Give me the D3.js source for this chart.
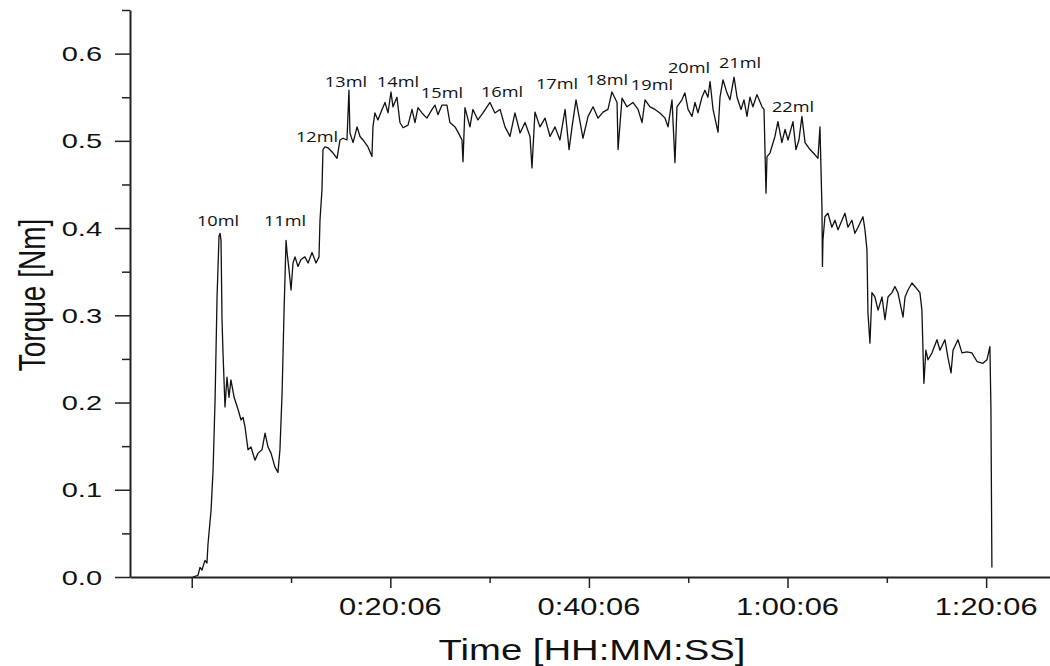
<!DOCTYPE html>
<html>
<head>
<meta charset="utf-8">
<script src="https://cdn.jsdelivr.net/npm/d3@7"></script>
<style>
  body { margin: 0; background: #fff; }
  svg { display: block; }
  .axis path, .axis line { stroke: #222; }
</style>
</head>
<body>
<svg id="chart" width="1050" height="666"></svg>
<script>
// time in seconds, torque in Nm
var times = [14,44,56,68,86,98,104,123,135,147,159,171,177,183,189,195,207,219,231,243,262,286,304,316,328,346,364,388,407,431,449,467,485,509,527,539,552,564,576,582,594,606,618,630,648,666,690,709,733,757,775,781,793,799,811,829,860,884,902,920,944,956,962,981,1005,1023,1041,1071,1095,1101,1113,1131,1156,1174,1192,1210,1222,1246,1264,1283,1313,1337,1355,1373,1397,1427,1458,1476,1494,1518,1548,1566,1597,1615,1639,1645,1657,1687,1705,1735,1766,1808,1838,1869,1899,1929,1959,1990,2020,2050,2062,2080,2110,2141,2171,2201,2231,2262,2286,2304,2328,2352,2370,2401,2431,2461,2491,2521,2545,2576,2582,2606,2636,2672,2703,2727,2745,2775,2805,2835,2866,2884,2908,2926,2938,2968,2986,3005,3029,3047,3065,3089,3107,3125,3138,3156,3186,3198,3216,3240,3258,3283,3301,3325,3343,3361,3379,3397,3421,3452,3464,3476,3482,3500,3530,3548,3572,3591,3609,3639,3657,3675,3693,3712,3742,3772,3790,3802,3814,3817,3820,3832,3850,3874,3893,3911,3935,3953,3971,3995,4013,4032,4062,4074,4086,4092,4104,4116,4134,4153,4177,4195,4213,4237,4255,4273,4304,4316,4334,4358,4376,4406,4418,4424,4430,4442,4455,4479,4509,4527,4557,4575,4594,4606,4636,4660,4690,4720,4751,4787,4811,4829,4835,4841];
var torque = [0,0.002,0.011,0.008,0.019,0.016,0.037,0.077,0.123,0.203,0.321,0.391,0.394,0.386,0.295,0.257,0.195,0.229,0.206,0.226,0.206,0.192,0.180,0.183,0.172,0.146,0.149,0.134,0.142,0.146,0.165,0.149,0.142,0.126,0.120,0.146,0.211,0.306,0.386,0.372,0.352,0.329,0.360,0.367,0.356,0.364,0.367,0.360,0.372,0.360,0.367,0.409,0.444,0.490,0.493,0.492,0.486,0.480,0.501,0.503,0.501,0.558,0.509,0.498,0.516,0.505,0.501,0.493,0.482,0.516,0.532,0.524,0.536,0.544,0.532,0.556,0.539,0.550,0.521,0.515,0.518,0.536,0.521,0.538,0.532,0.526,0.536,0.541,0.530,0.541,0.541,0.521,0.516,0.510,0.501,0.476,0.538,0.516,0.536,0.524,0.532,0.544,0.532,0.536,0.516,0.505,0.532,0.509,0.521,0.505,0.469,0.533,0.516,0.526,0.505,0.516,0.501,0.536,0.490,0.516,0.547,0.522,0.503,0.528,0.539,0.526,0.533,0.536,0.556,0.544,0.490,0.549,0.539,0.544,0.536,0.521,0.547,0.539,0.536,0.532,0.526,0.516,0.547,0.475,0.539,0.547,0.555,0.536,0.528,0.544,0.532,0.550,0.558,0.550,0.568,0.536,0.510,0.550,0.570,0.555,0.547,0.573,0.550,0.536,0.547,0.528,0.550,0.539,0.553,0.539,0.536,0.440,0.482,0.486,0.505,0.522,0.498,0.513,0.501,0.522,0.490,0.501,0.528,0.498,0.490,0.484,0.480,0.516,0.424,0.356,0.386,0.413,0.417,0.401,0.409,0.398,0.409,0.417,0.401,0.409,0.394,0.401,0.413,0.398,0.375,0.303,0.268,0.326,0.321,0.306,0.321,0.295,0.321,0.326,0.333,0.326,0.298,0.321,0.329,0.337,0.333,0.326,0.306,0.264,0.222,0.260,0.249,0.257,0.272,0.260,0.272,0.252,0.234,0.260,0.272,0.257,0.258,0.257,0.247,0.245,0.249,0.264,0.194,0.011];

// volume annotations
var labelNames = ["10ml","11ml","12ml","13ml","14ml","15ml","16ml","17ml","18ml","19ml","20ml","21ml","22ml"];
var labelTimes = [165,570,763,938,1252,1518,1881,2213,2515,2787,3011,3319,3639];
var labelTorques = [0.4025,0.4025,0.499,0.562,0.562,0.549,0.550,0.560,0.564,0.558,0.578,0.584,0.533];

var xMajor = [6,1206,2406,3606,4806];
var xMinor = [606,1806,3006,4206];
var xTickLabels = ["","0:20:06","0:40:06","1:00:06","1:20:06"];
var yMajor = [0,0.1,0.2,0.3,0.4,0.5,0.6];
var yMinor = [0.05,0.15,0.25,0.35,0.45,0.55,0.65];

var svg = d3.select("#chart");
var stretch = 1.35; // the picture is squashed wide, so the type is too

var x = d3.scaleLinear().domain([-367, 5192]).range([130, 1050]);
var y = d3.scaleLinear().domain([0, 0.65]).range([577, 10]);

// y axis
svg.append("g").attr("class", "axis")
  .attr("transform", "translate(130,0)")
  .call(d3.axisLeft(y).tickValues(yMajor).tickSize(15).tickSizeOuter(0).tickFormat(""))
  .call(function (g) { g.select(".domain").attr("stroke-width", 2); })
  .selectAll(".tick line").attr("stroke-width", 1.5);
svg.append("g").attr("class", "axis")
  .attr("transform", "translate(130,0)")
  .call(d3.axisLeft(y).tickValues(yMinor).tickSize(8).tickFormat(""))
  .call(function (g) { g.select(".domain").remove(); })
  .selectAll(".tick line").attr("stroke-width", 1.5);

// x axis
svg.append("g").attr("class", "axis")
  .attr("transform", "translate(0,577)")
  .call(d3.axisBottom(x).tickValues(xMajor).tickSize(11).tickSizeOuter(0).tickFormat(""))
  .call(function (g) { g.select(".domain").attr("stroke-width", 2); })
  .selectAll(".tick line").attr("stroke-width", 1.5);
svg.append("g").attr("class", "axis")
  .attr("transform", "translate(0,577)")
  .call(d3.axisBottom(x).tickValues(xMinor).tickSize(6).tickFormat(""))
  .call(function (g) { g.select(".domain").remove(); })
  .selectAll(".tick line").attr("stroke-width", 1.5);

// tick labels
svg.append("g").selectAll("text")
  .data(yMajor)
  .enter().append("text")
  .attr("transform", function (d) { return "translate(102," + (y(d) + 7.5) + ") scale(" + 1.38 + ",1)"; })
  .attr("text-anchor", "end")
  .style("font", "21px 'Liberation Sans', Arial, sans-serif")
  .style("fill", "#111")
  .text(d3.format(".1f"));

svg.append("g").selectAll("text")
  .data(xMajor)
  .enter().append("text")
  .attr("transform", function (d) { return "translate(" + x(d) + ",615) scale(" + 1.34 + ",1)"; })
  .attr("text-anchor", "middle")
  .style("font", "23px 'Liberation Sans', Arial, sans-serif")
  .style("fill", "#111")
  .text(function (d, i) { return xTickLabels[i]; });

// axis titles
svg.append("text")
  .attr("transform", "translate(592,660) scale(1.32,1)")
  .attr("text-anchor", "middle")
  .style("font", "29px 'Liberation Sans', Arial, sans-serif")
  .style("fill", "#111")
  .text("Time [HH:MM:SS]");
svg.append("text")
  .attr("transform", "translate(45,295) scale(1.3,1) rotate(-90)")
  .attr("text-anchor", "middle")
  .style("font", "28px 'Liberation Sans', Arial, sans-serif")
  .style("fill", "#111")
  .text("Torque [Nm]");

// torque trace
var points = d3.zip(times, torque);
var line = d3.line()
  .x(function (d) { return x(d[0]); })
  .y(function (d) { return y(d[1]); });
svg.append("path")
  .datum(points)
  .attr("d", line)
  .attr("fill", "none")
  .attr("stroke", "#111")
  .attr("stroke-width", 1.3)
  .attr("stroke-linejoin", "round");

// ml labels
svg.append("g").selectAll("text")
  .data(labelNames)
  .enter().append("text")
  .attr("transform", function (d, i) {
    return "translate(" + x(labelTimes[i]) + "," + y(labelTorques[i]) + ") scale(1.3,1)";
  })
  .attr("text-anchor", "middle")
  .style("font", "14px 'Open Sans', 'Noto Sans', sans-serif")
  .style("fill", "#111")
  .text(function (d) { return d; });
</script>
</body>
</html>
